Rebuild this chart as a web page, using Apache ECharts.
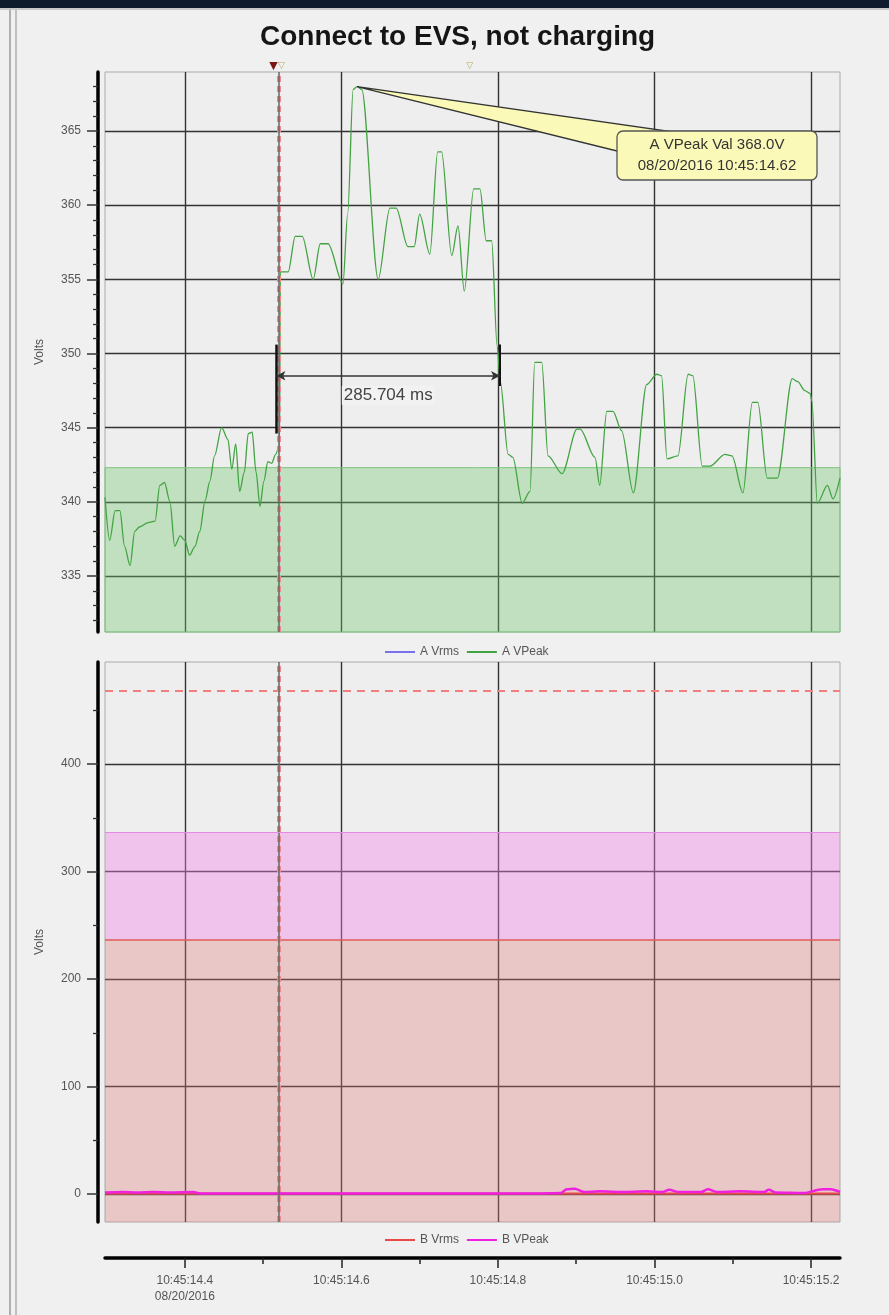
<!DOCTYPE html>
<html>
<head>
<meta charset="utf-8">
<script src="https://cdn.jsdelivr.net/npm/echarts@6/dist/echarts.min.js"></script>
<style>
  html, body { margin: 0; padding: 0; background: #f0f0f0; }
  #chart { width: 889px; height: 1315px; }
</style>
</head>
<body>
<div id="chart"></div>
<script>
// ---- time axis (seconds past 10:45) ----
const timeRange = [14.298, 15.237];
const timeTicks = [14.4, 14.6, 14.8, 15.0, 15.2];
const timeMinorTicks = [14.5, 14.7, 14.9, 15.1];
const dateLabel = '08/20/2016';

// ---- upper panel: phase A ----
const voltRangeA = [331.22, 368.98];
const voltTicksA = [335, 340, 345, 350, 355, 360, 365];
const aVrms = [];
const aVPeak = [
  [14.298, 340.3], [14.304, 337.4], [14.311, 339.4], [14.317, 339.4], [14.323, 337.0],
  [14.330, 335.7], [14.336, 338.0], [14.342, 338.3], [14.353, 338.6], [14.362, 338.7],
  [14.368, 341.1], [14.374, 341.3], [14.381, 340.0], [14.387, 337.0], [14.394, 337.7],
  [14.400, 337.4], [14.406, 336.4], [14.413, 337.0], [14.419, 338.0], [14.426, 340.1],
  [14.432, 341.4], [14.438, 343.1], [14.447, 345.0], [14.455, 344.2], [14.460, 342.2],
  [14.465, 343.9], [14.470, 340.7], [14.476, 342.0], [14.481, 344.6], [14.486, 344.7],
  [14.491, 342.0], [14.496, 339.7], [14.501, 341.4], [14.506, 342.7], [14.511, 342.6],
  [14.516, 343.2], [14.521, 343.8], [14.522, 355.5], [14.532, 355.5], [14.541, 357.9],
  [14.550, 357.9], [14.564, 355.0], [14.573, 357.4], [14.583, 357.4], [14.602, 354.7],
  [14.608, 359.4], [14.615, 367.8], [14.620, 368.0], [14.626, 367.8], [14.647, 355.0],
  [14.662, 359.8], [14.670, 359.8], [14.685, 357.2], [14.693, 357.2], [14.700, 359.4],
  [14.713, 356.7], [14.723, 363.6], [14.728, 363.6], [14.741, 356.6], [14.749, 358.6],
  [14.757, 354.2], [14.769, 361.1], [14.777, 361.1], [14.785, 357.6], [14.792, 357.6],
  [14.799, 350.5], [14.803, 348.1], [14.813, 343.2], [14.819, 343.0], [14.831, 339.9],
  [14.841, 340.7], [14.847, 349.4], [14.856, 349.4], [14.864, 343.1], [14.882, 341.9],
  [14.901, 344.9], [14.905, 344.9], [14.924, 343.0], [14.930, 341.1], [14.939, 346.1],
  [14.947, 346.1], [14.958, 344.8], [14.973, 340.6], [14.990, 347.9], [15.003, 348.6],
  [15.009, 348.5], [15.016, 342.9], [15.030, 343.1], [15.043, 348.6], [15.049, 348.5],
  [15.061, 342.4], [15.071, 342.4], [15.090, 343.2], [15.099, 343.1], [15.113, 340.6],
  [15.125, 346.7], [15.132, 346.7], [15.144, 341.6], [15.157, 341.6], [15.176, 348.3],
  [15.183, 348.1], [15.192, 347.5], [15.199, 347.3], [15.201, 346.8], [15.208, 339.9],
  [15.221, 341.1], [15.228, 340.2], [15.237, 341.6]
];
const aPeakLimit = 342.3;
const aPeakMax = [14.620, 368.0];

// ---- lower panel: phase B ----
const voltRangeB = [-26, 495];
const voltTicksB = [0, 100, 200, 300, 400];
const voltMinorTicksB = [50, 150, 250, 350, 450];
const bVrms = [[14.298, 0.5], [14.700, 0.5], [15.237, 0.5]];
const bVPeak = [
  [14.298, 1.5], [14.320, 2.0], [14.340, 1.5], [14.360, 2.0], [14.380, 1.5], [14.410, 2.0],
  [14.420, 0.5], [14.600, 0.5], [14.850, 0.5], [14.880, 1.0], [14.888, 4.5], [14.898, 5.0],
  [14.910, 2.0], [14.930, 2.5], [14.960, 2.0], [14.990, 2.5], [15.010, 2.0], [15.019, 4.0],
  [15.030, 2.0], [15.060, 2.0], [15.068, 4.5], [15.080, 2.0], [15.110, 2.5], [15.140, 2.0],
  [15.146, 4.0], [15.155, 1.5], [15.190, 1.0], [15.215, 4.5], [15.225, 4.5], [15.237, 2.0]
];
const bVrmsLimit = 236.5;
const bVPeakLimit = 336.5;
const bUpperLimit = 468;

// ---- cursors ----
const cursorA = 14.517;
const cursorSpanMs = 285.704;
const cursorB = cursorA + cursorSpanMs / 1000;
const cursorHint = 14.764;

const FONT = 'Liberation Sans, Arial, sans-serif';
const minorTicksA = [];
for (let v = Math.ceil(voltRangeA[0]); v <= voltRangeA[1]; v++) {
  if (v % 5 !== 0) minorTicksA.push(v);
}

const gridLine = { show: true, lineStyle: { color: '#333', width: 1.4 } };
const axisFont = { color: '#555', fontSize: 12, fontFamily: FONT };
const legendText = { color: '#555', fontSize: 12, fontFamily: FONT };

function timeLabel(v) {
  const s = '10:45:' + v.toFixed(1);
  return Math.abs(v - timeTicks[0]) < 1e-9 ? s + '\n' + dateLabel : s;
}

const chart = echarts.init(document.getElementById('chart'), null, { renderer: 'canvas' });

const option = {
  backgroundColor: '#f0f0f0',
  animation: false,
  title: {
    text: 'Connect to EVS, not charging',
    left: 255, top: 18,
    textStyle: { fontSize: 28, fontWeight: 'bold', color: '#151515', fontFamily: FONT }
  },
  legend: [
    {
      data: ['A Vrms', 'A VPeak'], left: 380, top: 641,
      icon: 'rect', itemWidth: 30, itemHeight: 2, itemGap: 8,
      textStyle: legendText
    },
    {
      data: ['B Vrms', 'B VPeak'], left: 380, top: 1229,
      icon: 'rect', itemWidth: 30, itemHeight: 2, itemGap: 8,
      textStyle: legendText
    }
  ],
  grid: [
    { left: 105, top: 72, width: 735, height: 560, show: true, backgroundColor: '#eeeeee', borderColor: '#aaa', borderWidth: 1 },
    { left: 105, top: 662, width: 735, height: 560, show: true, backgroundColor: '#eeeeee', borderColor: '#aaa', borderWidth: 1 }
  ],
  xAxis: [
    {
      gridIndex: 0, type: 'value', min: timeRange[0], max: timeRange[1],
      axisLine: { show: false, onZero: false },
      axisTick: { show: false, customValues: timeTicks },
      axisLabel: { show: false, customValues: timeTicks },
      splitLine: gridLine
    },
    {
      gridIndex: 1, type: 'value', position: 'bottom', offset: 36,
      min: timeRange[0], max: timeRange[1],
      axisLine: { show: true, onZero: false, lineStyle: { color: '#000', width: 3.5 } },
      axisTick: { show: true, customValues: timeTicks, length: 10, lineStyle: { color: '#222', width: 1.5 } },
      axisLabel: { show: true, customValues: timeTicks, formatter: timeLabel, margin: 15, lineHeight: 16, ...axisFont },
      splitLine: gridLine
    },
    {
      gridIndex: 1, type: 'value', position: 'bottom', offset: 36,
      min: timeRange[0], max: timeRange[1],
      axisLine: { show: false, onZero: false },
      axisTick: { show: true, customValues: timeMinorTicks, length: 6, lineStyle: { color: '#222', width: 1.5 } },
      axisLabel: { show: false, customValues: timeMinorTicks },
      splitLine: { show: false }
    }
  ],
  yAxis: [
    {
      gridIndex: 0, type: 'value', position: 'left', offset: 7,
      min: voltRangeA[0], max: voltRangeA[1],
      name: 'Volts', nameLocation: 'middle', nameGap: 52, nameRotate: 90,
      nameTextStyle: { color: '#555', fontSize: 12, fontFamily: FONT },
      axisLine: { show: true, onZero: false, lineStyle: { color: '#000', width: 3.5 } },
      axisTick: { show: true, customValues: voltTicksA, length: 11, lineStyle: { color: '#333', width: 1.5 } },
      axisLabel: { show: true, customValues: voltTicksA, margin: 17, ...axisFont },
      splitLine: gridLine
    },
    {
      gridIndex: 0, type: 'value', position: 'left', offset: 7,
      min: voltRangeA[0], max: voltRangeA[1],
      axisLine: { show: false, onZero: false },
      axisTick: { show: true, customValues: minorTicksA, length: 5, lineStyle: { color: '#333', width: 1.3 } },
      axisLabel: { show: false, customValues: minorTicksA },
      splitLine: { show: false }
    },
    {
      gridIndex: 1, type: 'value', position: 'left', offset: 7,
      min: voltRangeB[0], max: voltRangeB[1],
      name: 'Volts', nameLocation: 'middle', nameGap: 52, nameRotate: 90,
      nameTextStyle: { color: '#555', fontSize: 12, fontFamily: FONT },
      axisLine: { show: true, onZero: false, lineStyle: { color: '#000', width: 3.5 } },
      axisTick: { show: true, customValues: voltTicksB, length: 11, lineStyle: { color: '#333', width: 1.5 } },
      axisLabel: { show: true, customValues: voltTicksB, margin: 17, ...axisFont },
      splitLine: gridLine
    },
    {
      gridIndex: 1, type: 'value', position: 'left', offset: 7,
      min: voltRangeB[0], max: voltRangeB[1],
      axisLine: { show: false, onZero: false },
      axisTick: { show: true, customValues: voltMinorTicksB, length: 5, lineStyle: { color: '#333', width: 1.3 } },
      axisLabel: { show: false, customValues: voltMinorTicksB },
      splitLine: { show: false }
    }
  ],
  series: [
    {
      name: 'A Vrms', type: 'line', xAxisIndex: 0, yAxisIndex: 0,
      data: aVrms, symbol: 'none', color: '#7a72e8', lineStyle: { width: 2 }
    },
    {
      name: 'A VPeak', type: 'line', xAxisIndex: 0, yAxisIndex: 0,
      data: aVPeak, symbol: 'none', color: '#43a343',
      smooth: 0.3, smoothMonotone: 'x',
      lineStyle: { width: 1.3 }, z: 3,
      markArea: {
        silent: true,
        itemStyle: { color: 'rgba(110,200,110,0.36)', borderColor: '#7cc67c', borderWidth: 1 },
        data: [[{ yAxis: voltRangeA[0] }, { yAxis: aPeakLimit }]]
      },
      markLine: {
        silent: true, symbol: 'none', animation: false,
        label: { show: false },
        data: [
          { xAxis: cursorA, lineStyle: { color: '#ee8a8a', width: 4, type: [6, 4] } },
          { xAxis: cursorA + 0.006, lineStyle: { color: '#666', width: 1.5, type: 'solid' } },
          [
            { coord: [cursorA, 344.6], lineStyle: { color: '#111', width: 2.5, type: 'solid' } },
            { coord: [cursorA, 350.6] }
          ],
          [
            { coord: [cursorB, 347.8], lineStyle: { color: '#111', width: 2, type: 'solid' } },
            { coord: [cursorB, 350.6] }
          ],
          [
            {
              coord: [cursorA, 348.5], symbol: 'arrow', symbolSize: [7, 9],
              lineStyle: { color: '#333', width: 1.5, type: 'solid' },
              label: {
                show: true, position: 'insideMiddleBottom', distance: 10,
                formatter: cursorSpanMs.toFixed(3) + ' ms',
                color: '#444', fontSize: 17, fontFamily: FONT,
                backgroundColor: '#f2f2f2', padding: [1, 2]
              }
            },
            { coord: [cursorB, 348.5], symbol: 'arrow', symbolSize: [7, 9] }
          ]
        ]
      }
    },
    {
      name: 'B Vrms', type: 'line', xAxisIndex: 1, yAxisIndex: 2,
      data: bVrms, symbol: 'none', color: '#e84a4a',
      lineStyle: { width: 2 }, z: 3,
      markArea: {
        silent: true,
        itemStyle: { color: 'rgba(225,120,120,0.33)' },
        data: [[{ yAxis: voltRangeB[0] }, { yAxis: bVrmsLimit }]]
      },
      markLine: {
        silent: true, symbol: 'none', label: { show: false },
        data: [
          { yAxis: bVrmsLimit, lineStyle: { color: '#e05a5a', width: 1.5, type: 'solid' } },
          { yAxis: bUpperLimit, lineStyle: { color: '#f07f7f', width: 2, type: [8, 6] } },
          { xAxis: cursorA, lineStyle: { color: '#ee8a8a', width: 4, type: [6, 4] } },
          { xAxis: cursorA + 0.006, lineStyle: { color: '#666', width: 1.5, type: 'solid' } }
        ]
      }
    },
    {
      name: 'B VPeak', type: 'line', xAxisIndex: 1, yAxisIndex: 2,
      data: bVPeak, symbol: 'none', color: '#f020e0',
      lineStyle: { width: 2.5 }, z: 4, smooth: 0.3, smoothMonotone: 'x',
      markArea: {
        silent: true,
        itemStyle: { color: 'rgba(240,130,232,0.4)' },
        data: [[{ yAxis: bVrmsLimit }, { yAxis: bVPeakLimit }]]
      },
      markLine: {
        silent: true, symbol: 'none', label: { show: false },
        data: [{ yAxis: bVPeakLimit, lineStyle: { color: '#e58ae0', width: 1, type: 'solid' } }]
      }
    }
  ]
};

chart.setOption(option);

// Peak callout, cursor flags and window frame, placed from the axis scales.
const peakPx = chart.convertToPixel({ xAxisIndex: 0, yAxisIndex: 0 }, aPeakMax);
const curAx = chart.convertToPixel({ xAxisIndex: 0 }, cursorA);
const hintX = chart.convertToPixel({ xAxisIndex: 0 }, cursorHint);
const box = { x: 617, y: 131, w: 200, h: 49 };
const peakText = 'A VPeak Val ' + aPeakMax[1].toFixed(1) + 'V\n' + dateLabel + ' 10:45:' + aPeakMax[0].toFixed(2);

chart.setOption({
  graphic: [
    { type: 'rect', shape: { x: 0, y: 0, width: 889, height: 8 }, style: { fill: '#0f1c2d' }, z: 100 },
    { type: 'line', shape: { x1: 0, y1: 9, x2: 889, y2: 9 }, style: { stroke: '#c8c8c8', lineWidth: 2 }, z: 100 },
    { type: 'line', shape: { x1: 10, y1: 10, x2: 10, y2: 1315 }, style: { stroke: '#9a9a9a', lineWidth: 1.5 }, z: 100 },
    { type: 'line', shape: { x1: 16, y1: 10, x2: 16, y2: 1315 }, style: { stroke: '#b0b0b0', lineWidth: 1.5 }, z: 100 },
    {
      type: 'polygon', z: 50,
      shape: { points: [peakPx, [box.x + 50, box.y], [box.x, box.y + 20]] },
      style: { fill: '#fbf9b8', stroke: '#333', lineWidth: 1.3 }
    },
    {
      type: 'rect', z: 51,
      shape: { x: box.x, y: box.y, width: box.w, height: box.h, r: 6 },
      style: { fill: '#fbf9b8', stroke: '#555', lineWidth: 1.3 }
    },
    {
      type: 'text', z: 52, x: box.x + box.w / 2, y: box.y + box.h / 2,
      style: {
        text: peakText, align: 'center', verticalAlign: 'middle',
        fill: '#333', font: '15px ' + FONT, lineHeight: 21
      }
    },
    {
      type: 'text', z: 52, x: curAx - 3, y: 66,
      style: { text: '▼', align: 'center', verticalAlign: 'middle', fill: '#7a1515', font: '11px DejaVu Sans' }
    },
    {
      type: 'text', z: 52, x: curAx + 5, y: 66,
      style: { text: '▽', align: 'center', verticalAlign: 'middle', fill: '#b8a860', font: '9px DejaVu Sans' }
    },
    {
      type: 'text', z: 52, x: hintX, y: 66,
      style: { text: '▽', align: 'center', verticalAlign: 'middle', fill: '#b8a860', font: '9px DejaVu Sans' }
    }
  ]
});
</script>
</body>
</html>
